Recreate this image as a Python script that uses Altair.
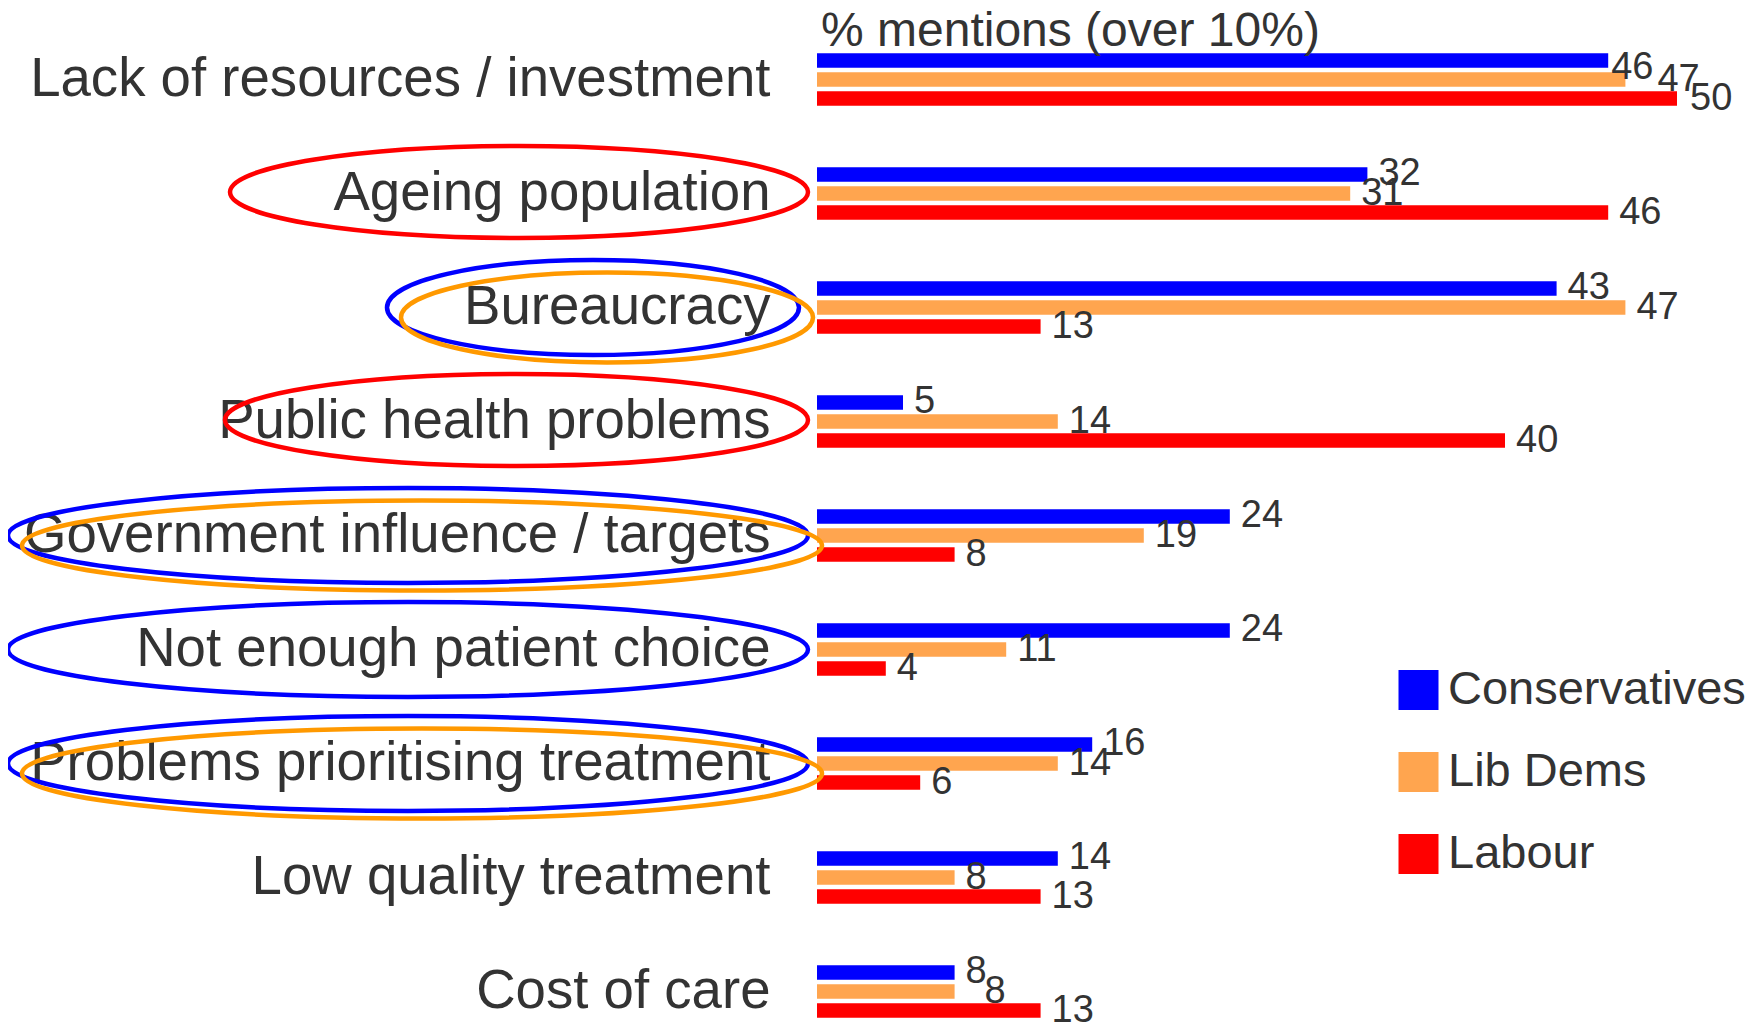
import altair as alt
import pandas as pd

# ---------------- data ----------------
categories = [
    "Lack of resources / investment",
    "Ageing population",
    "Bureaucracy",
    "Public health problems",
    "Government influence / targets",
    "Not enough patient choice",
    "Problems prioritising treatment",
    "Low quality treatment",
    "Cost of care",
]
parties = ["Conservatives", "Lib Dems", "Labour"]
conservatives = [46, 32, 43, 5, 24, 24, 16, 14, 8]
lib_dems = [47, 31, 47, 14, 19, 11, 14, 8, 8]
labour = [50, 46, 13, 40, 8, 4, 6, 13, 13]

# which party's ring is drawn round which label
circled = [
    ("Ageing population", "Labour"),
    ("Bureaucracy", "Conservatives"),
    ("Bureaucracy", "Lib Dems"),
    ("Public health problems", "Labour"),
    ("Government influence / targets", "Conservatives"),
    ("Government influence / targets", "Lib Dems"),
    ("Not enough patient choice", "Conservatives"),
    ("Problems prioritising treatment", "Conservatives"),
    ("Problems prioritising treatment", "Lib Dems"),
]

# ---------------- styling ----------------
FONT = "Liberation Sans"
TEXT = "#333333"
bar_colors = ["#0000FF", "#FFA54F", "#FF0000"]
ring_colors = ["#0000FF", "#FF9900", "#FF0000"]

W = 860            # plot width (0..50)
X_MAX = 50
PX = W / X_MAX
STEP = 114
H = STEP * len(categories)

# ring geometry (pixels)
ring_width = {
    "Ageing population": 578,
    "Bureaucracy": 412,
    "Public health problems": 583,
    "Government influence / targets": 800,
    "Not enough patient choice": 800,
    "Problems prioritising treatment": 800,
}
ring_right = {"Bureaucracy": -18}   # right end of rings, px relative to bar baseline
RING_RIGHT = -9
ring_style = {  # party -> (dx, dy, height)
    "Conservatives": (0, 0, 95),
    "Lib Dems": (14, 10, 90),
    "Labour": (0, -1.5, 92),
}

# label nudges (px) where the labels collide: (dx, dy)
label_nudge = {
    ("Lack of resources / investment", "Conservatives"): (3, 8),
    ("Lack of resources / investment", "Lib Dems"): (32, 0),
    ("Lack of resources / investment", "Labour"): (13, 0),
    ("Cost of care", "Lib Dems"): (30, 0),
}
DEFAULT_NUDGE = (11, 0)

# ---------------- tables ----------------
rows = []
for i, c in enumerate(categories):
    for p, vals in zip(parties, [conservatives, lib_dems, labour]):
        ndx, ndy = label_nudge.get((c, p), DEFAULT_NUDGE)
        rows.append({"cat": c, "party": p, "value": vals[i], "ndx": ndx, "ndy": ndy})
df = pd.DataFrame(rows)


def ellipse_path(w, h, dx, dy):
    k = 0.5523
    r = h / w
    cx = dx / (w / 2)
    cy = dy / (w / 2)
    f = lambda v: f"{v:.4f}"
    return (
        f"M {f(cx-1)} {f(cy)} "
        f"C {f(cx-1)} {f(cy-k*r)} {f(cx-k)} {f(cy-r)} {f(cx)} {f(cy-r)} "
        f"C {f(cx+k)} {f(cy-r)} {f(cx+1)} {f(cy-k*r)} {f(cx+1)} {f(cy)} "
        f"C {f(cx+1)} {f(cy+k*r)} {f(cx+k)} {f(cy+r)} {f(cx)} {f(cy+r)} "
        f"C {f(cx-k)} {f(cy+r)} {f(cx-1)} {f(cy+k*r)} {f(cx-1)} {f(cy)} Z"
    )


rrows = []
for c, p in circled:
    w = ring_width[c]
    dx, dy, h = ring_style[p]
    rrows.append({
        "cat": c, "party": p,
        "ex": (ring_right.get(c, RING_RIGHT) - w / 2) / PX,
        "sz": w * w,
        "path": ellipse_path(w, h, dx, dy),
    })
rdf = pd.DataFrame(rrows)

# ---------------- chart ----------------
yscale = alt.Scale(domain=categories, paddingInner=0.5, paddingOuter=0.25)
xscale = alt.Scale(domain=[0, X_MAX], nice=False, zero=False)
yoff = alt.YOffset("party:N", scale=alt.Scale(domain=parties, paddingInner=0.237, paddingOuter=0.118))

base = alt.Chart(df)

bars = base.mark_bar().encode(
    x=alt.X("value:Q", scale=xscale, axis=None),
    y=alt.Y("cat:N", scale=yscale, sort=categories,
            axis=alt.Axis(title=None, ticks=False, domain=False, labelFontSize=54.6,
                          labelColor=TEXT, labelFont=FONT, labelPadding=47,
                          labelLimit=2000, labelBaseline="middle")),
    yOffset=yoff,
    color=alt.Color("party:N", scale=alt.Scale(domain=parties, range=bar_colors),
                    legend=alt.Legend(title=None, orient="none", legendX=578, legendY=644,
                                      symbolType="square", symbolSize=1600,
                                      symbolStrokeWidth=0, labelFontSize=47,
                                      labelFont=FONT, labelColor=TEXT, labelOffset=6,
                                      labelLimit=1000, rowPadding=34, padding=0)),
)

label_layers = []
for ndx, ndy in sorted(set(zip(df["ndx"], df["ndy"]))):
    label_layers.append(
        base.transform_filter((alt.datum.ndx == ndx) & (alt.datum.ndy == ndy))
        .mark_text(align="left", baseline="middle", fontSize=38, font=FONT,
                   color=TEXT, dx=ndx, dy=ndy)
        .encode(
            x=alt.X("value:Q", scale=xscale, axis=None),
            y=alt.Y("cat:N", scale=yscale, sort=categories),
            yOffset=yoff,
            text=alt.Text("value:Q"),
        )
    )

rings = alt.Chart(rdf).mark_point(filled=False, strokeWidth=4.5, opacity=1).encode(
    x=alt.X("ex:Q", scale=xscale, axis=None),
    y=alt.Y("cat:N", scale=yscale, sort=categories),
    shape=alt.Shape("path:N", scale=alt.Scale(domain=list(rdf["path"]), range=list(rdf["path"])),
                    legend=None),
    size=alt.Size("sz:Q", scale=None, legend=None),
    stroke=alt.Stroke("party:N", scale=alt.Scale(domain=parties, range=ring_colors),
                      legend=None),
)

chart = alt.layer(bars, *label_layers, rings).properties(
    width=W,
    height=H,
    title=alt.TitleParams("% mentions (over 10%)", anchor="start", frame="group",
                          fontSize=48, font=FONT, color=TEXT, fontWeight="normal",
                          baseline="alphabetic", offset=-71.5, dx=4),
    autosize=alt.AutoSizeParams(type="none"),
    padding={"left": 809, "top": 14.5, "right": 75, "bottom": 0},
).configure_view(stroke=None)

chart.save("out.html", embed_options={"renderer": "svg", "actions": False})
